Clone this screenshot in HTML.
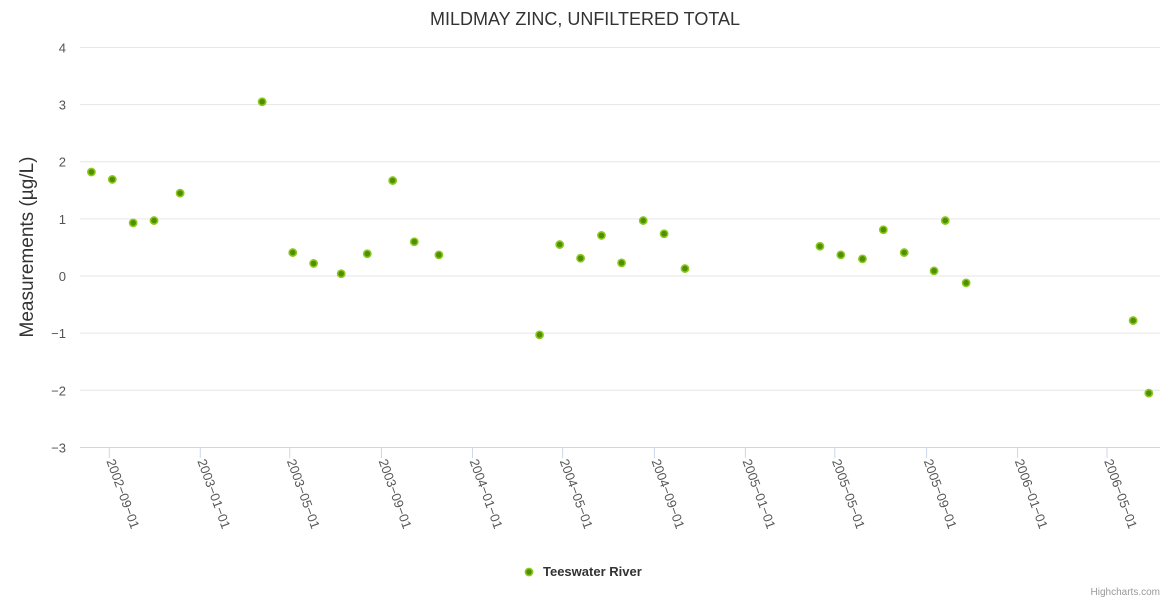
<!DOCTYPE html>
<html><head><meta charset="utf-8"><style>
body{margin:0;background:#fff;font-family:"Liberation Sans",sans-serif}
svg text{font-family:"Liberation Sans",sans-serif}
</style></head><body>
<svg id="c" width="1170" height="600"></svg>
<script>
const dates=["2002-08-08","2002-09-05","2002-10-03","2002-10-31","2002-12-05","2003-03-25","2003-05-05","2003-06-02","2003-07-09","2003-08-13","2003-09-16","2003-10-15","2003-11-17","2004-03-31","2004-04-27","2004-05-25","2004-06-22","2004-07-19","2004-08-17","2004-09-14","2004-10-12","2005-04-11","2005-05-09","2005-06-07","2005-07-05","2005-08-02","2005-09-11","2005-09-26","2005-10-24","2006-06-05","2006-06-26"];
const values=[1.82,1.69,0.93,0.97,1.45,3.05,0.41,0.22,0.04,0.39,1.67,0.60,0.37,-1.03,0.55,0.31,0.71,0.23,0.97,0.74,0.13,0.52,0.37,0.30,0.81,0.41,0.09,0.97,-0.12,-0.78,-2.05];
const xTicks=["2002-09-01","2003-01-01","2003-05-01","2003-09-01","2004-01-01","2004-05-01","2004-09-01","2005-01-01","2005-05-01","2005-09-01","2006-01-01","2006-05-01"];
const yTicks=[-3,-2,-1,0,1,2,3,4];
const NS="http://www.w3.org/2000/svg",svg=document.getElementById('c');
const d0=Date.parse("2002-09-01"),pxDay=0.7457,day=86400000;
const X=d=>109.3+(Date.parse(d)-d0)/day*pxDay;
const Y=v=>276-v*57.14;
function mk(t,a,txt){const e=document.createElementNS(NS,t);for(const k in a)e.setAttribute(k,a[k]);if(txt!=null)e.textContent=txt;svg.appendChild(e);return e;}
let e=mk('text',{x:585,y:25,'text-anchor':'middle','font-size':18,fill:'#333'},'MILDMAY ZINC, UNFILTERED TOTAL');

yTicks.forEach(v=>{
 if(v>-3){const g=mk('line',{x1:80,x2:1160,y1:Y(v),y2:Y(v),stroke:'#e6e6e6'});
 }
 const t=mk('text',{x:66,y:Y(v)+5,'text-anchor':'end','font-size':13,fill:'#555'},v<0?'\u2212'+(-v):String(v));
 
});
e=mk('line',{x1:80,x2:1160,y1:447.5,y2:447.5,stroke:'#ccd6eb'});

xTicks.forEach(d=>{
 const x=X(d);
 const l=mk('line',{x1:x,x2:x,y1:448,y2:458,stroke:'#ccd6eb'});
 
 const t=mk('text',{x:x-3,y:461,'font-size':13,fill:'#555',transform:`rotate(70 ${x-3} 461)`},d.replace(/-/g,'\u2212'));
 
});
e=mk('text',{x:33,y:247,'text-anchor':'middle','font-size':19,fill:'#333',transform:'rotate(-90 33 247)'},'Measurements (µg/L)');

dates.forEach((d,i)=>{
 const c=mk('circle',{cx:X(d),cy:Y(values[i]),r:3.6,fill:'#4f8f00',stroke:'#8cc820','stroke-width':1.6});
 
});
e=mk('circle',{cx:529,cy:572,r:3.6,fill:'#4f8f00',stroke:'#8cc820','stroke-width':1.6});

e=mk('text',{x:543,y:576,'font-size':13,'font-weight':'bold',fill:'#333'},'Teeswater River');

e=mk('text',{x:1160,y:595,'text-anchor':'end','font-size':10,fill:'#999'},'Highcharts.com');

</script>
</body></html>
